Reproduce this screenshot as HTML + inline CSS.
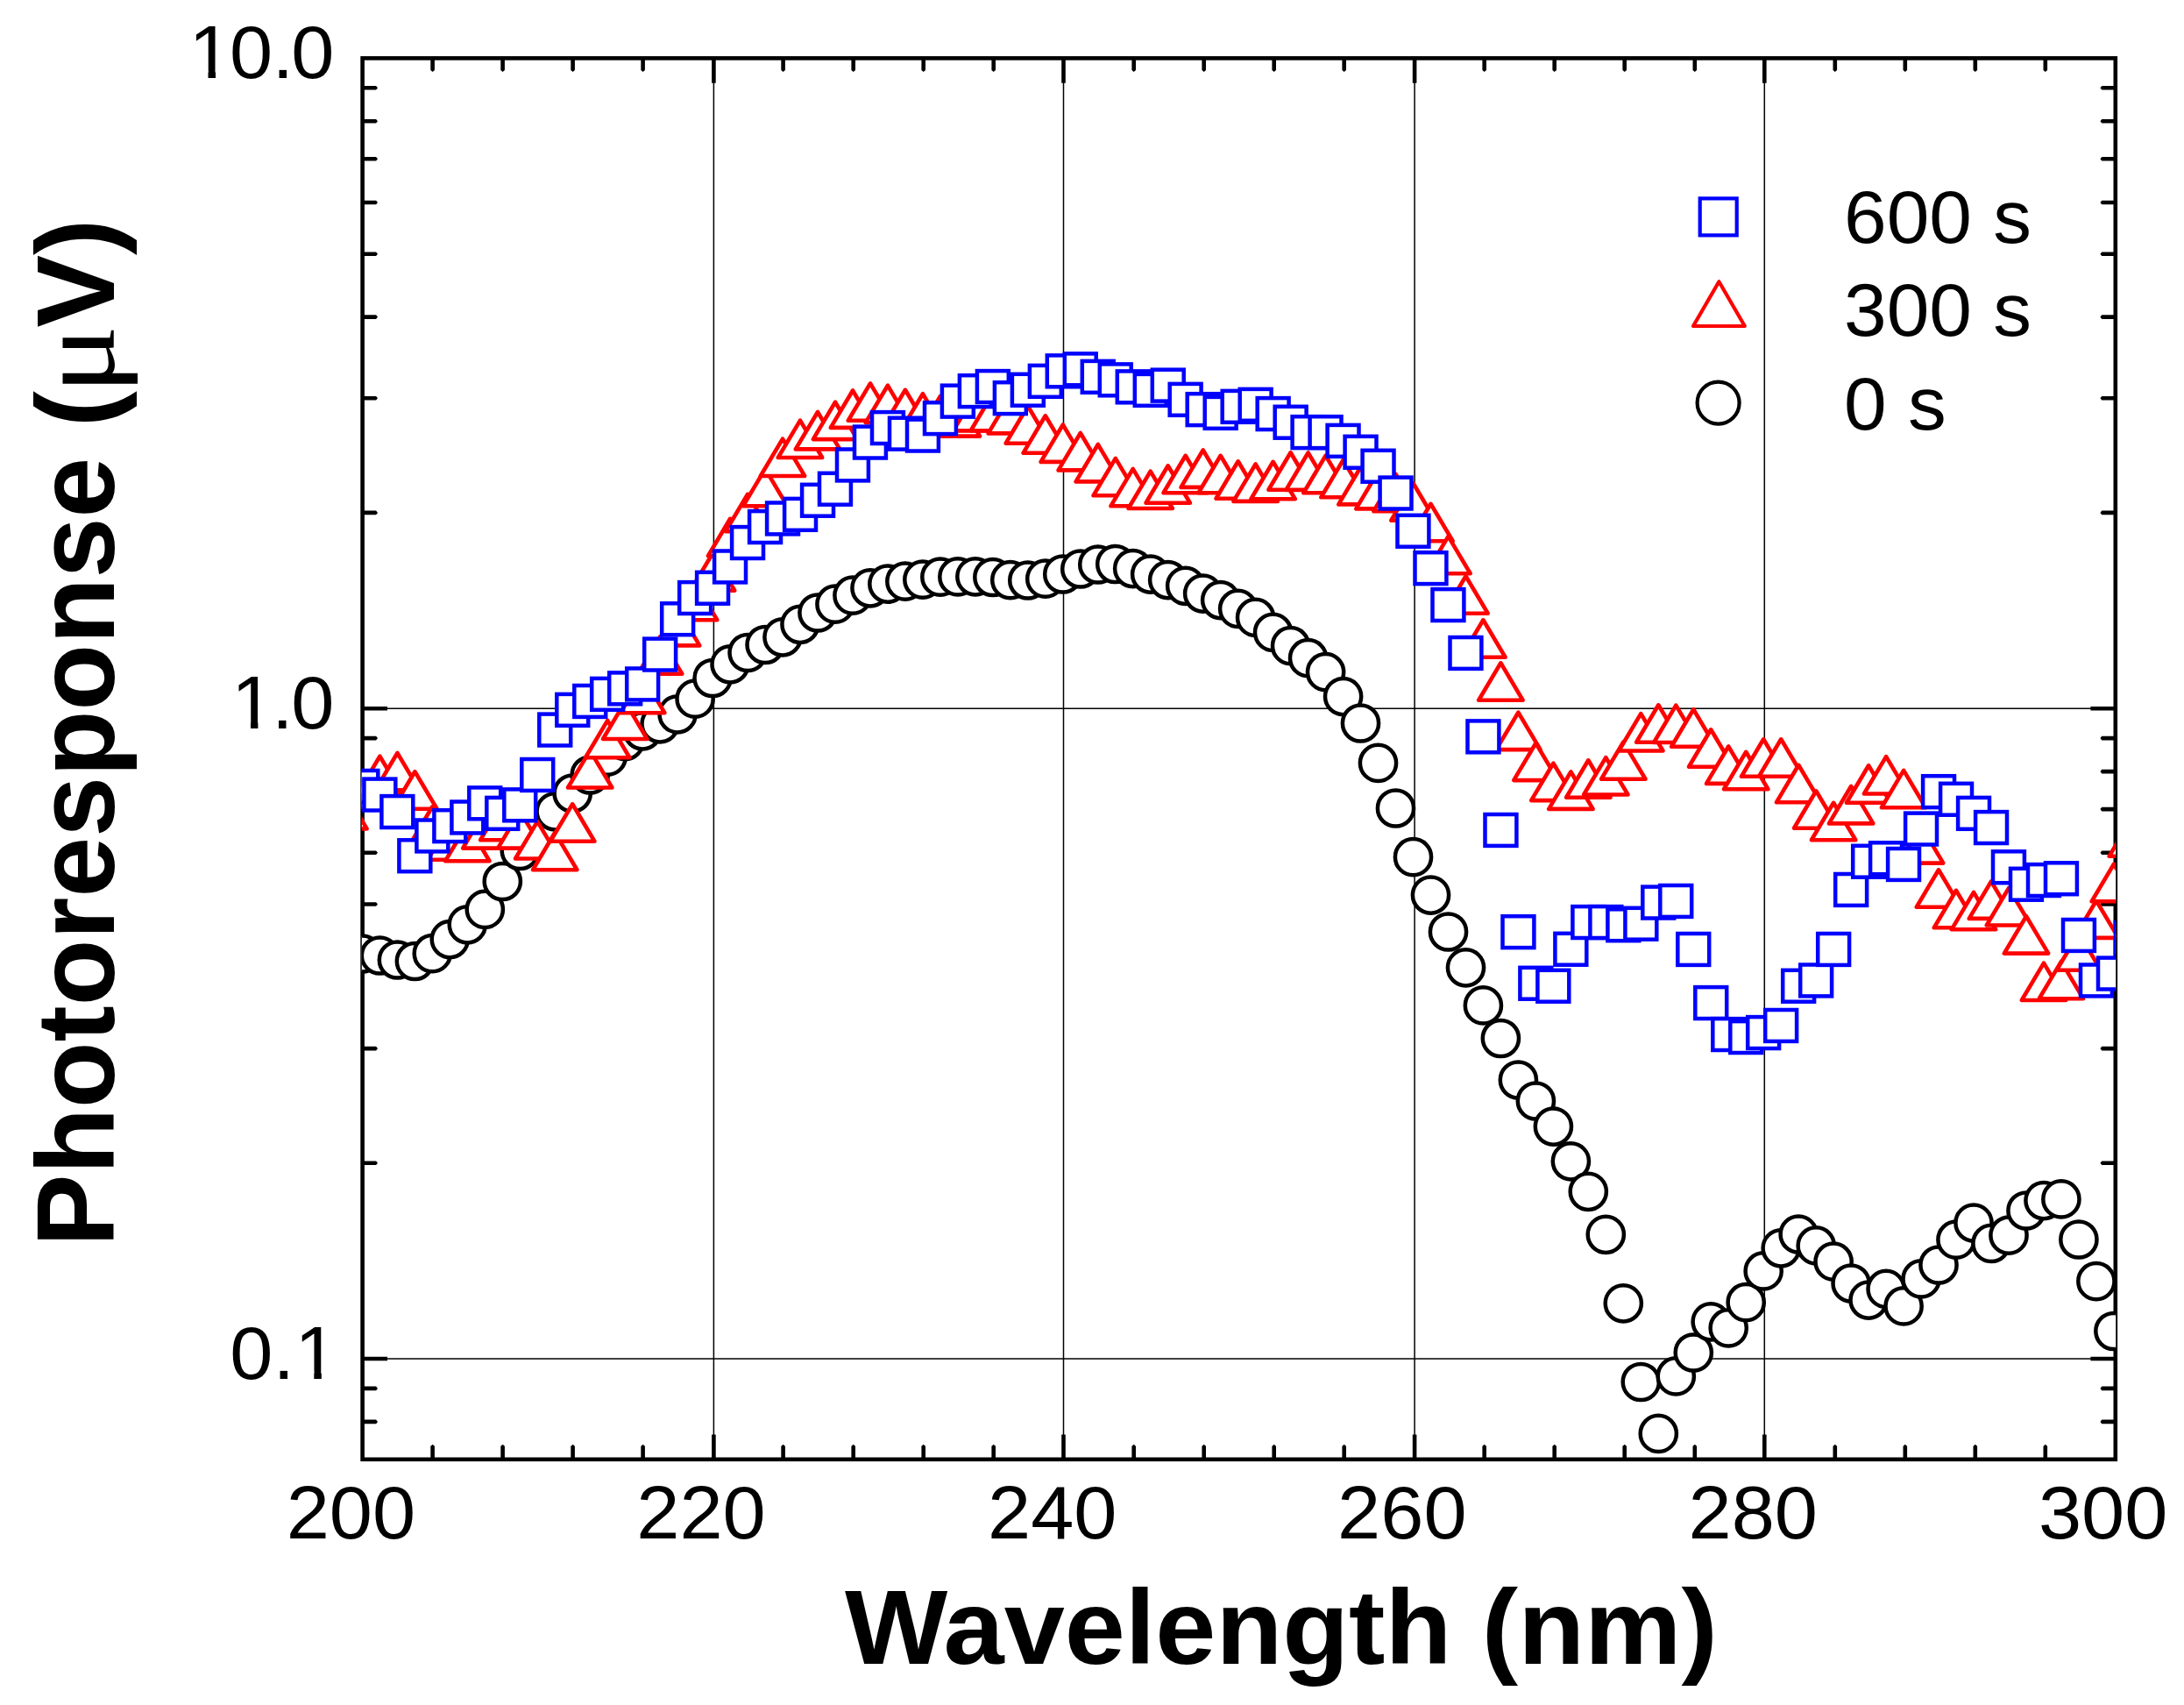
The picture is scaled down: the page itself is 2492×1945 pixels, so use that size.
<!DOCTYPE html>
<html lang="en"><head><meta charset="utf-8"><title>Photoresponse vs Wavelength</title>
<style>html,body{margin:0;padding:0;background:#fff;}body{width:2492px;height:1945px;overflow:hidden;}svg{display:block;}text{font-family:"Liberation Sans",sans-serif;fill:#000;}</style>
</head><body>
<svg width="2492" height="1945" viewBox="0 0 2492 1945">
<rect x="0" y="0" width="2492" height="1945" fill="#fff"/>
<defs><clipPath id="plot"><rect x="412.8" y="66.4" width="2001.4" height="1598.4"/></clipPath></defs>
<g stroke="#000" stroke-width="1.5" fill="none">
<line x1="814.4" y1="66.4" x2="814.4" y2="1664.8"/>
<line x1="1213.5" y1="66.4" x2="1213.5" y2="1664.8"/>
<line x1="1614.1" y1="66.4" x2="1614.1" y2="1664.8"/>
<line x1="2013.3" y1="66.4" x2="2013.3" y2="1664.8"/>
<line x1="413.6" y1="808.2" x2="2413.8" y2="808.2"/>
<line x1="413.6" y1="1550.0" x2="2413.8" y2="1550.0"/>
</g>
<g stroke="#000" stroke-width="4.6" fill="none" stroke-linecap="butt">
<rect x="413.6" y="66.4" width="2000.2" height="1598.4" stroke-width="4.6"/>
<path d="M814.4 66.4v28.4M814.4 1664.8v-28.4M1213.5 66.4v28.4M1213.5 1664.8v-28.4M1614.1 66.4v28.4M1614.1 1664.8v-28.4M2013.3 66.4v28.4M2013.3 1664.8v-28.4M413.6 1550.0h28.4M2413.8 1550.0h-28.4M413.6 808.2h28.4M2413.8 808.2h-28.4"/>
<path d="M491.3 66.4L491.3 80.0L493.6 81.9L495.9 80.0L495.9 66.4ZM491.3 1664.8L491.3 1649.7L493.6 1647.8L495.9 1649.7L495.9 1664.8ZM571.3 66.4L571.3 80.0L573.6 81.9L575.9 80.0L575.9 66.4ZM571.3 1664.8L571.3 1649.7L573.6 1647.8L575.9 1649.7L575.9 1664.8ZM651.3 66.4L651.3 80.0L653.6 81.9L655.9 80.0L655.9 66.4ZM651.3 1664.8L651.3 1649.7L653.6 1647.8L655.9 1649.7L655.9 1664.8ZM731.3 66.4L731.3 80.0L733.6 81.9L735.9 80.0L735.9 66.4ZM731.3 1664.8L731.3 1649.7L733.6 1647.8L735.9 1649.7L735.9 1664.8ZM891.3 66.4L891.3 80.0L893.6 81.9L895.9 80.0L895.9 66.4ZM891.3 1664.8L891.3 1649.7L893.6 1647.8L895.9 1649.7L895.9 1664.8ZM971.4 66.4L971.4 80.0L973.7 81.9L976.0 80.0L976.0 66.4ZM971.4 1664.8L971.4 1649.7L973.7 1647.8L976.0 1649.7L976.0 1664.8ZM1051.4 66.4L1051.4 80.0L1053.7 81.9L1056.0 80.0L1056.0 66.4ZM1051.4 1664.8L1051.4 1649.7L1053.7 1647.8L1056.0 1649.7L1056.0 1664.8ZM1131.4 66.4L1131.4 80.0L1133.7 81.9L1136.0 80.0L1136.0 66.4ZM1131.4 1664.8L1131.4 1649.7L1133.7 1647.8L1136.0 1649.7L1136.0 1664.8ZM1291.4 66.4L1291.4 80.0L1293.7 81.9L1296.0 80.0L1296.0 66.4ZM1291.4 1664.8L1291.4 1649.7L1293.7 1647.8L1296.0 1649.7L1296.0 1664.8ZM1371.4 66.4L1371.4 80.0L1373.7 81.9L1376.0 80.0L1376.0 66.4ZM1371.4 1664.8L1371.4 1649.7L1373.7 1647.8L1376.0 1649.7L1376.0 1664.8ZM1451.4 66.4L1451.4 80.0L1453.7 81.9L1456.0 80.0L1456.0 66.4ZM1451.4 1664.8L1451.4 1649.7L1453.7 1647.8L1456.0 1649.7L1456.0 1664.8ZM1531.4 66.4L1531.4 80.0L1533.7 81.9L1536.0 80.0L1536.0 66.4ZM1531.4 1664.8L1531.4 1649.7L1533.7 1647.8L1536.0 1649.7L1536.0 1664.8ZM1691.4 66.4L1691.4 80.0L1693.7 81.9L1696.0 80.0L1696.0 66.4ZM1691.4 1664.8L1691.4 1649.7L1693.7 1647.8L1696.0 1649.7L1696.0 1664.8ZM1771.4 66.4L1771.4 80.0L1773.7 81.9L1776.0 80.0L1776.0 66.4ZM1771.4 1664.8L1771.4 1649.7L1773.7 1647.8L1776.0 1649.7L1776.0 1664.8ZM1851.4 66.4L1851.4 80.0L1853.7 81.9L1856.0 80.0L1856.0 66.4ZM1851.4 1664.8L1851.4 1649.7L1853.7 1647.8L1856.0 1649.7L1856.0 1664.8ZM1931.5 66.4L1931.5 80.0L1933.8 81.9L1936.1 80.0L1936.1 66.4ZM1931.5 1664.8L1931.5 1649.7L1933.8 1647.8L1936.1 1649.7L1936.1 1664.8ZM2091.5 66.4L2091.5 80.0L2093.8 81.9L2096.1 80.0L2096.1 66.4ZM2091.5 1664.8L2091.5 1649.7L2093.8 1647.8L2096.1 1649.7L2096.1 1664.8ZM2171.5 66.4L2171.5 80.0L2173.8 81.9L2176.1 80.0L2176.1 66.4ZM2171.5 1664.8L2171.5 1649.7L2173.8 1647.8L2176.1 1649.7L2176.1 1664.8ZM2251.5 66.4L2251.5 80.0L2253.8 81.9L2256.1 80.0L2256.1 66.4ZM2251.5 1664.8L2251.5 1649.7L2253.8 1647.8L2256.1 1649.7L2256.1 1664.8ZM2331.5 66.4L2331.5 80.0L2333.8 81.9L2336.1 80.0L2336.1 66.4ZM2331.5 1664.8L2331.5 1649.7L2333.8 1647.8L2336.1 1649.7L2336.1 1664.8ZM413.6 1619.6L429.1 1619.6L431.0 1621.9L429.1 1624.2L413.6 1624.2ZM2413.8 1619.6L2398.3 1619.6L2396.4 1621.9L2398.3 1624.2L2413.8 1624.2ZM413.6 1581.6L429.1 1581.6L431.0 1583.9L429.1 1586.2L413.6 1586.2ZM2413.8 1581.6L2398.3 1581.6L2396.4 1583.9L2398.3 1586.2L2413.8 1586.2ZM413.6 1324.4L429.1 1324.4L431.0 1326.7L429.1 1329.0L413.6 1329.0ZM2413.8 1324.4L2398.3 1324.4L2396.4 1326.7L2398.3 1329.0L2413.8 1329.0ZM413.6 1193.8L429.1 1193.8L431.0 1196.1L429.1 1198.4L413.6 1198.4ZM2413.8 1193.8L2398.3 1193.8L2396.4 1196.1L2398.3 1198.4L2413.8 1198.4ZM413.6 1101.1L429.1 1101.1L431.0 1103.4L429.1 1105.7L413.6 1105.7ZM2413.8 1101.1L2398.3 1101.1L2396.4 1103.4L2398.3 1105.7L2413.8 1105.7ZM413.6 1029.2L429.1 1029.2L431.0 1031.5L429.1 1033.8L413.6 1033.8ZM2413.8 1029.2L2398.3 1029.2L2396.4 1031.5L2398.3 1033.8L2413.8 1033.8ZM413.6 970.5L429.1 970.5L431.0 972.8L429.1 975.1L413.6 975.1ZM2413.8 970.5L2398.3 970.5L2396.4 972.8L2398.3 975.1L2413.8 975.1ZM413.6 920.8L429.1 920.8L431.0 923.1L429.1 925.4L413.6 925.4ZM2413.8 920.8L2398.3 920.8L2396.4 923.1L2398.3 925.4L2413.8 925.4ZM413.6 877.8L429.1 877.8L431.0 880.1L429.1 882.4L413.6 882.4ZM2413.8 877.8L2398.3 877.8L2396.4 880.1L2398.3 882.4L2413.8 882.4ZM413.6 839.8L429.1 839.8L431.0 842.1L429.1 844.4L413.6 844.4ZM2413.8 839.8L2398.3 839.8L2396.4 842.1L2398.3 844.4L2413.8 844.4ZM413.6 582.6L429.1 582.6L431.0 584.9L429.1 587.2L413.6 587.2ZM2413.8 582.6L2398.3 582.6L2396.4 584.9L2398.3 587.2L2413.8 587.2ZM413.6 452.0L429.1 452.0L431.0 454.3L429.1 456.6L413.6 456.6ZM2413.8 452.0L2398.3 452.0L2396.4 454.3L2398.3 456.6L2413.8 456.6ZM413.6 359.3L429.1 359.3L431.0 361.6L429.1 363.9L413.6 363.9ZM2413.8 359.3L2398.3 359.3L2396.4 361.6L2398.3 363.9L2413.8 363.9ZM413.6 287.4L429.1 287.4L431.0 289.7L429.1 292.0L413.6 292.0ZM2413.8 287.4L2398.3 287.4L2396.4 289.7L2398.3 292.0L2413.8 292.0ZM413.6 228.7L429.1 228.7L431.0 231.0L429.1 233.3L413.6 233.3ZM2413.8 228.7L2398.3 228.7L2396.4 231.0L2398.3 233.3L2413.8 233.3ZM413.6 179.0L429.1 179.0L431.0 181.3L429.1 183.6L413.6 183.6ZM2413.8 179.0L2398.3 179.0L2396.4 181.3L2398.3 183.6L2413.8 183.6ZM413.6 136.0L429.1 136.0L431.0 138.3L429.1 140.6L413.6 140.6ZM2413.8 136.0L2398.3 136.0L2396.4 138.3L2398.3 140.6L2413.8 140.6ZM413.6 98.0L429.1 98.0L431.0 100.3L429.1 102.6L413.6 102.6ZM2413.8 98.0L2398.3 98.0L2396.4 100.3L2398.3 102.6L2413.8 102.6Z" fill="#000" stroke="none"/>
</g>
<g clip-path="url(#plot)" fill="#fff" stroke-width="4.6">
<g stroke="#000" stroke-width="4.5">
<circle cx="413.4" cy="1088.0" r="20.6"/>
<circle cx="433.4" cy="1090.0" r="20.6"/>
<circle cx="453.4" cy="1095.0" r="20.6"/>
<circle cx="473.4" cy="1096.5" r="20.6"/>
<circle cx="493.3" cy="1087.7" r="20.6"/>
<circle cx="513.3" cy="1071.6" r="20.6"/>
<circle cx="533.3" cy="1054.8" r="20.6"/>
<circle cx="553.3" cy="1037.4" r="20.6"/>
<circle cx="573.3" cy="1005.5" r="20.6"/>
<circle cx="593.3" cy="970.5" r="20.6"/>
<circle cx="613.2" cy="948.0" r="20.6"/>
<circle cx="633.2" cy="925.8" r="20.6"/>
<circle cx="653.2" cy="905.0" r="20.6"/>
<circle cx="673.2" cy="884.0" r="20.6"/>
<circle cx="693.2" cy="863.2" r="20.6"/>
<circle cx="713.2" cy="845.6" r="20.6"/>
<circle cx="733.2" cy="833.8" r="20.6"/>
<circle cx="753.1" cy="825.8" r="20.6"/>
<circle cx="773.1" cy="814.8" r="20.6"/>
<circle cx="793.1" cy="797.2" r="20.6"/>
<circle cx="813.1" cy="773.5" r="20.6"/>
<circle cx="833.1" cy="757.8" r="20.6"/>
<circle cx="853.1" cy="744.5" r="20.6"/>
<circle cx="873.1" cy="735.5" r="20.6"/>
<circle cx="893.0" cy="726.8" r="20.6"/>
<circle cx="913.0" cy="712.3" r="20.6"/>
<circle cx="933.0" cy="699.0" r="20.6"/>
<circle cx="953.0" cy="689.2" r="20.6"/>
<circle cx="973.0" cy="679.2" r="20.6"/>
<circle cx="993.0" cy="670.8" r="20.6"/>
<circle cx="1012.9" cy="666.1" r="20.6"/>
<circle cx="1032.9" cy="663.2" r="20.6"/>
<circle cx="1052.9" cy="661.2" r="20.6"/>
<circle cx="1072.9" cy="658.2" r="20.6"/>
<circle cx="1092.9" cy="657.9" r="20.6"/>
<circle cx="1112.9" cy="657.8" r="20.6"/>
<circle cx="1132.9" cy="658.5" r="20.6"/>
<circle cx="1152.8" cy="661.7" r="20.6"/>
<circle cx="1172.8" cy="662.0" r="20.6"/>
<circle cx="1192.8" cy="660.2" r="20.6"/>
<circle cx="1212.8" cy="655.0" r="20.6"/>
<circle cx="1232.8" cy="649.0" r="20.6"/>
<circle cx="1252.8" cy="644.0" r="20.6"/>
<circle cx="1272.8" cy="643.5" r="20.6"/>
<circle cx="1292.7" cy="648.6" r="20.6"/>
<circle cx="1312.7" cy="655.1" r="20.6"/>
<circle cx="1332.7" cy="661.6" r="20.6"/>
<circle cx="1352.7" cy="668.3" r="20.6"/>
<circle cx="1372.7" cy="677.1" r="20.6"/>
<circle cx="1392.7" cy="684.6" r="20.6"/>
<circle cx="1412.7" cy="694.4" r="20.6"/>
<circle cx="1432.6" cy="704.4" r="20.6"/>
<circle cx="1452.6" cy="721.4" r="20.6"/>
<circle cx="1472.6" cy="736.7" r="20.6"/>
<circle cx="1492.6" cy="750.7" r="20.6"/>
<circle cx="1512.6" cy="766.7" r="20.6"/>
<circle cx="1532.6" cy="794.6" r="20.6"/>
<circle cx="1552.5" cy="825.0" r="20.6"/>
<circle cx="1572.5" cy="870.4" r="20.6"/>
<circle cx="1592.5" cy="922.0" r="20.6"/>
<circle cx="1612.5" cy="977.7" r="20.6"/>
<circle cx="1632.5" cy="1021.1" r="20.6"/>
<circle cx="1652.5" cy="1063.0" r="20.6"/>
<circle cx="1672.5" cy="1103.8" r="20.6"/>
<circle cx="1692.4" cy="1146.9" r="20.6"/>
<circle cx="1712.4" cy="1184.5" r="20.6"/>
<circle cx="1732.4" cy="1232.0" r="20.6"/>
<circle cx="1752.4" cy="1256.0" r="20.6"/>
<circle cx="1772.4" cy="1285.1" r="20.6"/>
<circle cx="1792.4" cy="1324.8" r="20.6"/>
<circle cx="1812.3" cy="1359.3" r="20.6"/>
<circle cx="1832.3" cy="1408.3" r="20.6"/>
<circle cx="1852.3" cy="1486.8" r="20.6"/>
<circle cx="1872.3" cy="1576.5" r="20.6"/>
<circle cx="1892.3" cy="1635.4" r="20.6"/>
<circle cx="1912.3" cy="1569.9" r="20.6"/>
<circle cx="1932.3" cy="1543.0" r="20.6"/>
<circle cx="1952.2" cy="1507.8" r="20.6"/>
<circle cx="1972.2" cy="1514.9" r="20.6"/>
<circle cx="1992.2" cy="1485.7" r="20.6"/>
<circle cx="2012.2" cy="1449.9" r="20.6"/>
<circle cx="2032.2" cy="1423.8" r="20.6"/>
<circle cx="2052.2" cy="1408.1" r="20.6"/>
<circle cx="2072.2" cy="1420.9" r="20.6"/>
<circle cx="2092.1" cy="1439.2" r="20.6"/>
<circle cx="2112.1" cy="1464.0" r="20.6"/>
<circle cx="2132.1" cy="1483.1" r="20.6"/>
<circle cx="2152.1" cy="1470.4" r="20.6"/>
<circle cx="2172.1" cy="1489.9" r="20.6"/>
<circle cx="2192.1" cy="1458.9" r="20.6"/>
<circle cx="2212.0" cy="1443.0" r="20.6"/>
<circle cx="2232.0" cy="1414.2" r="20.6"/>
<circle cx="2252.0" cy="1395.1" r="20.6"/>
<circle cx="2272.0" cy="1418.4" r="20.6"/>
<circle cx="2292.0" cy="1409.2" r="20.6"/>
<circle cx="2312.0" cy="1381.0" r="20.6"/>
<circle cx="2332.0" cy="1369.6" r="20.6"/>
<circle cx="2351.9" cy="1367.9" r="20.6"/>
<circle cx="2371.9" cy="1414.0" r="20.6"/>
<circle cx="2391.9" cy="1461.7" r="20.6"/>
<circle cx="2411.9" cy="1518.5" r="20.6"/>
</g>
<g stroke="#f00" stroke-linejoin="round">
<path d="M368.2 945.4L418.6 945.4L393.4 903.0Z"/>
<path d="M388.2 922.7L438.6 922.7L413.4 880.3Z"/>
<path d="M408.2 905.1L458.6 905.1L433.4 862.7Z"/>
<path d="M428.2 901.4L478.6 901.4L453.4 859.0Z"/>
<path d="M448.2 922.7L498.6 922.7L473.4 880.3Z"/>
<path d="M468.1 962.7L518.5 962.7L493.3 920.3Z"/>
<path d="M488.1 980.7L538.5 980.7L513.3 938.3Z"/>
<path d="M508.1 982.2L558.5 982.2L533.3 939.8Z"/>
<path d="M528.1 967.6L578.5 967.6L553.3 925.2Z"/>
<path d="M548.1 958.2L598.5 958.2L573.3 915.8Z"/>
<path d="M568.1 967.6L618.5 967.6L593.3 925.2Z"/>
<path d="M588.0 979.5L638.5 979.5L613.2 937.1Z"/>
<path d="M608.0 992.2L658.4 992.2L633.2 949.8Z"/>
<path d="M628.0 959.7L678.4 959.7L653.2 917.3Z"/>
<path d="M648.0 898.5L698.4 898.5L673.2 856.1Z"/>
<path d="M668.0 864.3L718.4 864.3L693.2 821.9Z"/>
<path d="M688.0 843.0L738.4 843.0L713.2 800.6Z"/>
<path d="M708.0 813.2L758.4 813.2L733.2 770.8Z"/>
<path d="M727.9 768.8L778.3 768.8L753.1 726.4Z"/>
<path d="M747.9 736.4L798.3 736.4L773.1 694.0Z"/>
<path d="M767.9 707.3L818.3 707.3L793.1 664.9Z"/>
<path d="M787.9 673.6L838.3 673.6L813.1 631.2Z"/>
<path d="M807.9 634.2L858.3 634.2L833.1 591.8Z"/>
<path d="M827.9 606.2L878.3 606.2L853.1 563.8Z"/>
<path d="M847.9 577.3L898.3 577.3L873.1 534.9Z"/>
<path d="M867.8 543.0L918.2 543.0L893.0 500.6Z"/>
<path d="M887.8 522.0L938.2 522.0L913.0 479.6Z"/>
<path d="M907.8 512.4L958.2 512.4L933.0 470.0Z"/>
<path d="M927.8 501.1L978.2 501.1L953.0 458.7Z"/>
<path d="M947.8 487.9L998.2 487.9L973.0 445.5Z"/>
<path d="M967.8 479.8L1018.2 479.8L993.0 437.4Z"/>
<path d="M987.7 482.1L1038.1 482.1L1012.9 439.7Z"/>
<path d="M1007.7 487.2L1058.1 487.2L1032.9 444.8Z"/>
<path d="M1027.7 491.6L1078.1 491.6L1052.9 449.2Z"/>
<path d="M1047.7 494.3L1098.1 494.3L1072.9 451.9Z"/>
<path d="M1067.7 497.6L1118.1 497.6L1092.9 455.2Z"/>
<path d="M1087.7 491.4L1138.1 491.4L1112.9 449.0Z"/>
<path d="M1107.7 491.2L1158.1 491.2L1132.9 448.8Z"/>
<path d="M1127.6 494.4L1178.0 494.4L1152.8 452.0Z"/>
<path d="M1147.6 505.7L1198.0 505.7L1172.8 463.3Z"/>
<path d="M1167.6 516.7L1218.0 516.7L1192.8 474.3Z"/>
<path d="M1187.6 526.9L1238.0 526.9L1212.8 484.5Z"/>
<path d="M1207.6 536.4L1258.0 536.4L1232.8 494.0Z"/>
<path d="M1227.6 549.4L1278.0 549.4L1252.8 507.0Z"/>
<path d="M1247.6 565.3L1298.0 565.3L1272.8 522.9Z"/>
<path d="M1267.5 577.3L1317.9 577.3L1292.7 534.9Z"/>
<path d="M1287.5 580.0L1337.9 580.0L1312.7 537.6Z"/>
<path d="M1307.5 573.7L1357.9 573.7L1332.7 531.3Z"/>
<path d="M1327.5 562.2L1377.9 562.2L1352.7 519.8Z"/>
<path d="M1347.5 555.9L1397.9 555.9L1372.7 513.5Z"/>
<path d="M1367.5 562.2L1417.9 562.2L1392.7 519.8Z"/>
<path d="M1387.5 568.7L1437.9 568.7L1412.7 526.3Z"/>
<path d="M1407.4 571.9L1457.8 571.9L1432.6 529.5Z"/>
<path d="M1427.4 569.2L1477.8 569.2L1452.6 526.8Z"/>
<path d="M1447.4 558.7L1497.8 558.7L1472.6 516.3Z"/>
<path d="M1467.4 558.9L1517.8 558.9L1492.6 516.5Z"/>
<path d="M1487.4 562.2L1537.8 562.2L1512.6 519.8Z"/>
<path d="M1507.4 567.2L1557.8 567.2L1532.6 524.8Z"/>
<path d="M1527.3 575.4L1577.7 575.4L1552.5 533.0Z"/>
<path d="M1547.3 580.4L1597.7 580.4L1572.5 538.0Z"/>
<path d="M1567.3 583.2L1617.7 583.2L1592.5 540.8Z"/>
<path d="M1587.3 593.7L1637.7 593.7L1612.5 551.3Z"/>
<path d="M1607.3 617.2L1657.7 617.2L1632.5 574.8Z"/>
<path d="M1627.3 654.3L1677.7 654.3L1652.5 611.9Z"/>
<path d="M1647.3 699.7L1697.7 699.7L1672.5 657.3Z"/>
<path d="M1667.2 749.7L1717.6 749.7L1692.4 707.3Z"/>
<path d="M1687.2 798.7L1737.6 798.7L1712.4 756.3Z"/>
<path d="M1707.2 855.1L1757.6 855.1L1732.4 812.7Z"/>
<path d="M1727.2 890.1L1777.6 890.1L1752.4 847.7Z"/>
<path d="M1747.2 913.1L1797.6 913.1L1772.4 870.7Z"/>
<path d="M1767.2 922.9L1817.6 922.9L1792.4 880.5Z"/>
<path d="M1787.1 909.7L1837.5 909.7L1812.3 867.3Z"/>
<path d="M1807.1 906.5L1857.5 906.5L1832.3 864.1Z"/>
<path d="M1827.1 888.8L1877.5 888.8L1852.3 846.4Z"/>
<path d="M1847.1 856.5L1897.5 856.5L1872.3 814.1Z"/>
<path d="M1867.1 846.7L1917.5 846.7L1892.3 804.3Z"/>
<path d="M1887.1 847.0L1937.5 847.0L1912.3 804.6Z"/>
<path d="M1907.1 851.7L1957.5 851.7L1932.3 809.3Z"/>
<path d="M1927.0 874.7L1977.4 874.7L1952.2 832.3Z"/>
<path d="M1947.0 893.9L1997.4 893.9L1972.2 851.5Z"/>
<path d="M1967.0 900.2L2017.4 900.2L1992.2 857.8Z"/>
<path d="M1987.0 885.7L2037.4 885.7L2012.2 843.3Z"/>
<path d="M2007.0 885.7L2057.4 885.7L2032.2 843.3Z"/>
<path d="M2027.0 915.2L2077.4 915.2L2052.2 872.8Z"/>
<path d="M2047.0 944.7L2097.4 944.7L2072.2 902.3Z"/>
<path d="M2066.9 958.2L2117.3 958.2L2092.1 915.8Z"/>
<path d="M2086.9 939.4L2137.3 939.4L2112.1 897.0Z"/>
<path d="M2106.9 915.7L2157.3 915.7L2132.1 873.3Z"/>
<path d="M2126.9 905.5L2177.3 905.5L2152.1 863.1Z"/>
<path d="M2146.9 921.3L2197.3 921.3L2172.1 878.9Z"/>
<path d="M2166.9 984.6L2217.3 984.6L2192.1 942.2Z"/>
<path d="M2186.8 1034.7L2237.2 1034.7L2212.0 992.3Z"/>
<path d="M2206.8 1058.2L2257.2 1058.2L2232.0 1015.8Z"/>
<path d="M2226.8 1060.3L2277.2 1060.3L2252.0 1017.9Z"/>
<path d="M2246.8 1047.9L2297.2 1047.9L2272.0 1005.5Z"/>
<path d="M2266.8 1055.5L2317.2 1055.5L2292.0 1013.1Z"/>
<path d="M2286.8 1087.6L2337.2 1087.6L2312.0 1045.2Z"/>
<path d="M2306.8 1141.0L2357.2 1141.0L2332.0 1098.6Z"/>
<path d="M2326.7 1139.2L2377.1 1139.2L2351.9 1096.8Z"/>
<path d="M2346.7 1106.7L2397.1 1106.7L2371.9 1064.3Z"/>
<path d="M2366.7 1069.9L2417.1 1069.9L2391.9 1027.5Z"/>
<path d="M2386.7 1028.2L2437.1 1028.2L2411.9 985.8Z"/>
<path d="M2406.7 976.7L2457.1 976.7L2431.9 934.3Z"/>
</g>
<g stroke="#00f" stroke-width="4.5">
<rect x="395.4" y="879.0" width="35.9" height="35.9"/>
<rect x="415.4" y="888.6" width="35.9" height="35.9"/>
<rect x="435.4" y="908.1" width="35.9" height="35.9"/>
<rect x="455.4" y="958.3" width="35.9" height="35.9"/>
<rect x="475.4" y="935.5" width="35.9" height="35.9"/>
<rect x="495.4" y="924.2" width="35.9" height="35.9"/>
<rect x="515.4" y="914.5" width="35.9" height="35.9"/>
<rect x="535.3" y="898.4" width="35.9" height="35.9"/>
<rect x="555.3" y="909.9" width="35.9" height="35.9"/>
<rect x="575.3" y="900.4" width="35.9" height="35.9"/>
<rect x="595.3" y="866.0" width="35.9" height="35.9"/>
<rect x="615.3" y="814.6" width="35.9" height="35.9"/>
<rect x="635.3" y="791.9" width="35.9" height="35.9"/>
<rect x="655.3" y="782.0" width="35.9" height="35.9"/>
<rect x="675.2" y="773.9" width="35.9" height="35.9"/>
<rect x="695.2" y="767.4" width="35.9" height="35.9"/>
<rect x="715.2" y="762.5" width="35.9" height="35.9"/>
<rect x="735.2" y="728.6" width="35.9" height="35.9"/>
<rect x="755.2" y="688.3" width="35.9" height="35.9"/>
<rect x="775.2" y="664.1" width="35.9" height="35.9"/>
<rect x="795.1" y="652.8" width="35.9" height="35.9"/>
<rect x="815.1" y="628.5" width="35.9" height="35.9"/>
<rect x="835.1" y="601.1" width="35.9" height="35.9"/>
<rect x="855.1" y="583.1" width="35.9" height="35.9"/>
<rect x="875.1" y="573.5" width="35.9" height="35.9"/>
<rect x="895.1" y="568.9" width="35.9" height="35.9"/>
<rect x="915.1" y="552.8" width="35.9" height="35.9"/>
<rect x="935.0" y="539.8" width="35.9" height="35.9"/>
<rect x="955.0" y="512.5" width="35.9" height="35.9"/>
<rect x="975.0" y="486.6" width="35.9" height="35.9"/>
<rect x="995.0" y="470.1" width="35.9" height="35.9"/>
<rect x="1015.0" y="476.7" width="35.9" height="35.9"/>
<rect x="1035.0" y="478.6" width="35.9" height="35.9"/>
<rect x="1055.0" y="459.2" width="35.9" height="35.9"/>
<rect x="1074.9" y="439.7" width="35.9" height="35.9"/>
<rect x="1094.9" y="428.2" width="35.9" height="35.9"/>
<rect x="1114.9" y="423.1" width="35.9" height="35.9"/>
<rect x="1134.9" y="436.2" width="35.9" height="35.9"/>
<rect x="1154.9" y="426.8" width="35.9" height="35.9"/>
<rect x="1174.9" y="416.9" width="35.9" height="35.9"/>
<rect x="1194.8" y="405.4" width="35.9" height="35.9"/>
<rect x="1214.8" y="403.4" width="35.9" height="35.9"/>
<rect x="1234.8" y="411.9" width="35.9" height="35.9"/>
<rect x="1254.8" y="415.4" width="35.9" height="35.9"/>
<rect x="1274.8" y="423.4" width="35.9" height="35.9"/>
<rect x="1294.8" y="426.9" width="35.9" height="35.9"/>
<rect x="1314.8" y="421.7" width="35.9" height="35.9"/>
<rect x="1334.7" y="437.9" width="35.9" height="35.9"/>
<rect x="1354.7" y="449.2" width="35.9" height="35.9"/>
<rect x="1374.7" y="452.9" width="35.9" height="35.9"/>
<rect x="1394.7" y="445.9" width="35.9" height="35.9"/>
<rect x="1414.7" y="443.9" width="35.9" height="35.9"/>
<rect x="1434.7" y="454.1" width="35.9" height="35.9"/>
<rect x="1454.7" y="463.8" width="35.9" height="35.9"/>
<rect x="1474.6" y="475.2" width="35.9" height="35.9"/>
<rect x="1494.6" y="475.2" width="35.9" height="35.9"/>
<rect x="1514.6" y="484.9" width="35.9" height="35.9"/>
<rect x="1534.6" y="497.8" width="35.9" height="35.9"/>
<rect x="1554.6" y="513.8" width="35.9" height="35.9"/>
<rect x="1574.6" y="544.6" width="35.9" height="35.9"/>
<rect x="1594.5" y="587.8" width="35.9" height="35.9"/>
<rect x="1614.5" y="630.2" width="35.9" height="35.9"/>
<rect x="1634.5" y="672.1" width="35.9" height="35.9"/>
<rect x="1654.5" y="727.0" width="35.9" height="35.9"/>
<rect x="1674.5" y="822.4" width="35.9" height="35.9"/>
<rect x="1694.5" y="929.0" width="35.9" height="35.9"/>
<rect x="1714.5" y="1045.2" width="35.9" height="35.9"/>
<rect x="1734.4" y="1103.8" width="35.9" height="35.9"/>
<rect x="1754.4" y="1106.8" width="35.9" height="35.9"/>
<rect x="1774.4" y="1064.8" width="35.9" height="35.9"/>
<rect x="1794.4" y="1034.1" width="35.9" height="35.9"/>
<rect x="1814.4" y="1034.1" width="35.9" height="35.9"/>
<rect x="1834.4" y="1037.3" width="35.9" height="35.9"/>
<rect x="1854.4" y="1035.8" width="35.9" height="35.9"/>
<rect x="1874.3" y="1011.6" width="35.9" height="35.9"/>
<rect x="1894.3" y="1010.0" width="35.9" height="35.9"/>
<rect x="1914.3" y="1065.0" width="35.9" height="35.9"/>
<rect x="1934.3" y="1126.1" width="35.9" height="35.9"/>
<rect x="1954.3" y="1162.1" width="35.9" height="35.9"/>
<rect x="1974.3" y="1165.1" width="35.9" height="35.9"/>
<rect x="1994.2" y="1160.1" width="35.9" height="35.9"/>
<rect x="2014.2" y="1152.0" width="35.9" height="35.9"/>
<rect x="2034.2" y="1106.8" width="35.9" height="35.9"/>
<rect x="2054.2" y="1100.5" width="35.9" height="35.9"/>
<rect x="2074.2" y="1065.0" width="35.9" height="35.9"/>
<rect x="2094.2" y="997.0" width="35.9" height="35.9"/>
<rect x="2114.2" y="964.8" width="35.9" height="35.9"/>
<rect x="2134.1" y="961.3" width="35.9" height="35.9"/>
<rect x="2154.1" y="968.0" width="35.9" height="35.9"/>
<rect x="2174.1" y="927.6" width="35.9" height="35.9"/>
<rect x="2194.1" y="885.2" width="35.9" height="35.9"/>
<rect x="2214.1" y="893.8" width="35.9" height="35.9"/>
<rect x="2234.1" y="909.9" width="35.9" height="35.9"/>
<rect x="2254.1" y="926.1" width="35.9" height="35.9"/>
<rect x="2274.0" y="971.3" width="35.9" height="35.9"/>
<rect x="2294.0" y="990.8" width="35.9" height="35.9"/>
<rect x="2314.0" y="986.1" width="35.9" height="35.9"/>
<rect x="2334.0" y="984.3" width="35.9" height="35.9"/>
<rect x="2354.0" y="1049.0" width="35.9" height="35.9"/>
<rect x="2374.0" y="1100.5" width="35.9" height="35.9"/>
<rect x="2394.0" y="1092.6" width="35.9" height="35.9"/>
<rect x="2413.9" y="1052.0" width="35.9" height="35.9"/>
</g>
</g>
<g fill="#fff" stroke-width="4.2">
<rect x="1939.7" y="226.4" width="42.0" height="42.0" stroke="#00f"/>
<path d="M1932.0 372.0L1990.8 372.0L1961.4 321.3Z" stroke="#f00" stroke-linejoin="round"/>
<circle cx="1960.6" cy="459.6" r="24" stroke="#000"/>
</g>
<text transform="translate(209.5 89.3) scale(1.0100 0.9800)" font-size="87.50" text-anchor="start" font-weight="normal" dx="6.0 -2.7 -0.5 -2.8">10.0</text>
<rect x="221.0" y="80.9" width="16.5" height="9.6" fill="#fff"/>
<rect x="246.0" y="80.9" width="16.1" height="9.6" fill="#fff"/>
<text transform="translate(258.6 831.1) scale(1.0100 0.9800)" font-size="87.50" text-anchor="start" font-weight="normal" dx="5.3 -3.0 -2.3">1.0</text>
<rect x="269.5" y="822.7" width="16.5" height="9.6" fill="#fff"/>
<rect x="294.4" y="822.7" width="16.1" height="9.6" fill="#fff"/>
<text transform="translate(262.3 1572.9) scale(1.0100 0.9800)" font-size="87.50" text-anchor="start" font-weight="normal" dx="0 0 0.3">0.1</text>
<rect x="341.8" y="1564.5" width="16.5" height="9.6" fill="#fff"/>
<rect x="366.8" y="1564.5" width="16.1" height="9.6" fill="#fff"/>
<text transform="translate(400.4 1755.4) scale(1.0100 0.9800)" font-size="87.50" text-anchor="middle" font-weight="normal">200</text>
<text transform="translate(800.0 1755.4) scale(1.0100 0.9800)" font-size="87.50" text-anchor="middle" font-weight="normal">220</text>
<text transform="translate(1200.7 1755.4) scale(1.0100 0.9800)" font-size="87.50" text-anchor="middle" font-weight="normal">240</text>
<text transform="translate(1599.8 1755.4) scale(1.0100 0.9800)" font-size="87.50" text-anchor="middle" font-weight="normal">260</text>
<text transform="translate(2000.2 1755.4) scale(1.0100 0.9800)" font-size="87.50" text-anchor="middle" font-weight="normal">280</text>
<text transform="translate(2399.6 1755.4) scale(1.0100 0.9800)" font-size="87.50" text-anchor="middle" font-weight="normal">300</text>
<text transform="translate(2104.0 277.3) scale(1.0000 0.9800)" font-size="87.50" text-anchor="start" font-weight="normal">600 s</text>
<text transform="translate(2104.0 383.3) scale(1.0000 0.9800)" font-size="87.50" text-anchor="start" font-weight="normal">300 s</text>
<text transform="translate(2104.0 489.5) scale(1.0000 0.9800)" font-size="87.50" text-anchor="start" font-weight="normal">0 s</text>
<text transform="translate(964.0 1898.3) scale(1.0000 0.9680)" font-size="124.20" text-anchor="start" font-weight="bold">Wavelength (nm)</text>
<text transform="translate(130.2 1422.0) rotate(-90) scale(0.9896 1.0100)" font-size="125.00" font-weight="bold">Photoresponse (<tspan dx="-3.6" font-family="'Liberation Serif','DejaVu Serif',serif" font-weight="normal" font-size="125.00" textLength="80.0" lengthAdjust="spacingAndGlyphs">μ</tspan><tspan dx="-3">V)</tspan></text>
</svg></body></html>
